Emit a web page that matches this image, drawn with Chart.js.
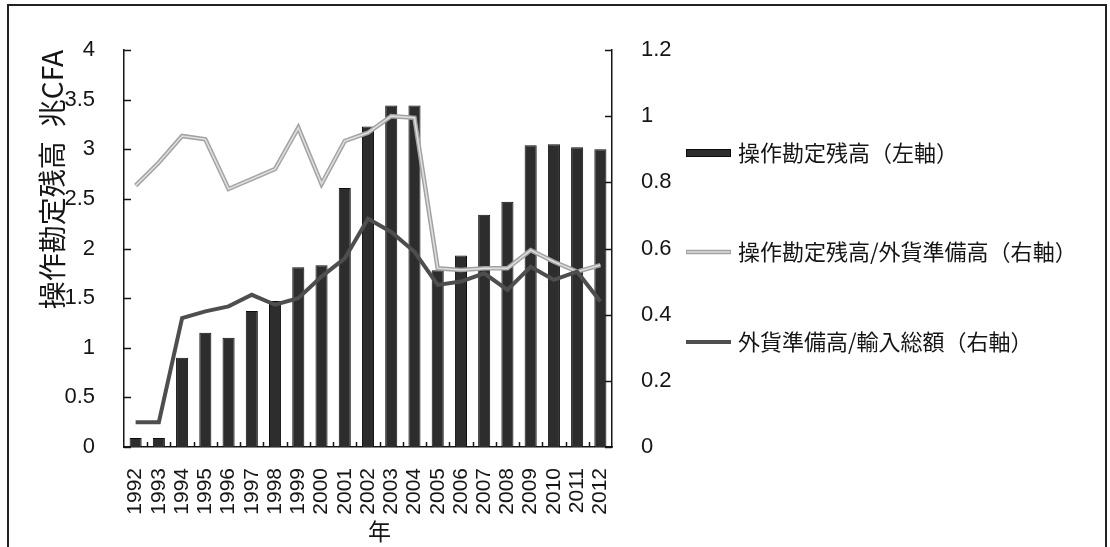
<!DOCTYPE html>
<html lang="ja">
<head>
<meta charset="utf-8">
<title>操作勘定残高と外貨準備</title>
<script src="https://cdn.jsdelivr.net/npm/chart.js@4.4.1/dist/chart.umd.min.js"></script>
<style>
  html, body { margin: 0; padding: 0; background: #ffffff; }
  #wrap { width: 1110px; height: 547px; position: relative; }
</style>
</head>
<body>
<div id="wrap"><canvas id="c" width="1110" height="547"></canvas></div>
<script>
// 年
const years = ['1992','1993','1994','1995','1996','1997','1998','1999','2000','2001','2002',
               '2003','2004','2005','2006','2007','2008','2009','2010','2011','2012'];

// 操作勘定残高（兆CFA、左軸）
const balance = [0.09, 0.09, 0.90, 1.15, 1.10, 1.37, 1.47, 1.81, 1.83, 2.61, 3.23,
                 3.44, 3.44, 1.78, 1.93, 2.34, 2.47, 3.04, 3.05, 3.02, 3.00];

// 操作勘定残高/外貨準備高（右軸）
const balanceToReserves = [0.79, 0.86, 0.94, 0.93, 0.78, 0.81, 0.84, 0.965, 0.795, 0.925, 0.95,
                           1.00, 0.995, 0.54, 0.535, 0.54, 0.54, 0.595, 0.56, 0.53, 0.55];

// 外貨準備高/輸入総額（右軸）
const reservesToImports = [0.075, 0.075, 0.39, 0.41, 0.425, 0.46, 0.43, 0.45, 0.515, 0.57, 0.69,
                           0.65, 0.59, 0.49, 0.50, 0.525, 0.475, 0.545, 0.505, 0.53, 0.44];

// 目盛りラベル
const leftTicks  = ['0','0.5','1','1.5','2','2.5','3','3.5','4'];
const rightTicks = ['0','0.2','0.4','0.6','0.8','1','1.2'];

const INK = '#151515';
const LATIN = '"Liberation Sans", Arial, sans-serif';
const CJK = '"Noto Sans CJK JP", "Noto Sans", sans-serif';
const LIGHT_CORE = '#dedede';

// 外枠
const framePlugin = {
  id: 'frame',
  beforeDraw(chart) {
    const ctx = chart.ctx;
    ctx.save();
    ctx.fillStyle = '#ffffff';
    ctx.fillRect(0, 0, chart.width, chart.height);
    ctx.strokeStyle = '#222222';
    ctx.lineWidth = 2;
    ctx.beginPath();
    ctx.moveTo(8, chart.height + 2);
    ctx.lineTo(8, 5);
    ctx.lineTo(1106, 5);
    ctx.lineTo(1106, chart.height + 2);
    ctx.stroke();
    ctx.restore();
  }
};

// 明るい折れ線は縁取り付きの二重線で描く
const doubleLinePlugin = {
  id: 'doubleLine',
  afterDatasetDraw(chart, args) {
    if (args.index !== 1) return;
    const pts = args.meta.data;
    const ctx = chart.ctx;
    ctx.save();
    ctx.strokeStyle = LIGHT_CORE;
    ctx.lineWidth = 1.6;
    ctx.lineJoin = 'miter';
    ctx.beginPath();
    pts.forEach((p, i) => (i ? ctx.lineTo(p.x, p.y) : ctx.moveTo(p.x, p.y)));
    ctx.stroke();
    ctx.restore();
  }
};

// 内向きの目盛り線
const innerTicksPlugin = {
  id: 'innerTicks',
  afterDraw(chart) {
    const {ctx, chartArea, scales} = chart;
    ctx.save();
    ctx.strokeStyle = INK;
    ctx.lineWidth = 1.5;
    ctx.beginPath();
    scales.y.ticks.forEach((t, i) => {
      const py = Math.round(scales.y.getPixelForTick(i)) + 0.5;
      ctx.moveTo(chartArea.left, py);
      ctx.lineTo(chartArea.left + 7, py);
    });
    scales.y1.ticks.forEach((t, i) => {
      const py = Math.round(scales.y1.getPixelForTick(i)) + 0.5;
      ctx.moveTo(chartArea.right, py);
      ctx.lineTo(chartArea.right - 7, py);
    });
    const step = scales.x.getPixelForValue(1) - scales.x.getPixelForValue(0);
    for (let i = 1; i < years.length; i++) {
      const px = Math.round(scales.x.getPixelForValue(i) - step / 2) + 0.5;
      ctx.moveTo(px, chartArea.bottom);
      ctx.lineTo(px, chartArea.bottom - 5);
    }
    ctx.stroke();
    ctx.restore();
  }
};

// 凡例（右側）
const legendPlugin = {
  id: 'sideLegend',
  afterDraw(chart) {
    const ctx = chart.ctx;
    const rows = [153, 252, 342];
    const x0 = 686, x1 = 731, tx = 738;
    ctx.save();
    ctx.font = '22px ' + CJK;
    ctx.textBaseline = 'middle';
    ctx.textAlign = 'left';
    chart.data.datasets.forEach((ds, i) => {
      const y = rows[i];
      if (ds.type === 'bar') {
        ctx.fillStyle = ds.backgroundColor;
        ctx.fillRect(x0, y - 4, x1 - x0, 8);
        ctx.strokeStyle = ds.borderColor;
        ctx.lineWidth = 1;
        ctx.strokeRect(x0 + 0.5, y - 3.5, x1 - x0 - 1, 7);
      } else {
        ctx.strokeStyle = ds.borderColor;
        ctx.lineWidth = ds.borderWidth;
        ctx.beginPath();
        ctx.moveTo(x0, y);
        ctx.lineTo(x1, y);
        ctx.stroke();
        if (i === 1) {
          ctx.strokeStyle = LIGHT_CORE;
          ctx.lineWidth = 1.6;
          ctx.beginPath();
          ctx.moveTo(x0 + 1, y);
          ctx.lineTo(x1 - 1, y);
          ctx.stroke();
        }
      }
      ctx.fillStyle = INK;
      ctx.fillText(ds.label, tx, y);
    });
    ctx.restore();
  }
};

new Chart(document.getElementById('c'), {
  data: {
    labels: years,
    datasets: [
      {
        type: 'bar',
        label: '操作勘定残高（左軸）',
        data: balance,
        yAxisID: 'y',
        backgroundColor: '#2d2d2d',
        borderColor: '#0d0d0d',
        borderWidth: 1,
        categoryPercentage: 1.0,
        barPercentage: 0.52,
        order: 3
      },
      {
        type: 'line',
        label: '操作勘定残高/外貨準備高（右軸）',
        data: balanceToReserves,
        yAxisID: 'y1',
        borderColor: '#a2a2a2',
        backgroundColor: '#a2a2a2',
        borderWidth: 4.5,
        pointRadius: 0,
        tension: 0,
        order: 2
      },
      {
        type: 'line',
        label: '外貨準備高/輸入総額（右軸）',
        data: reservesToImports,
        yAxisID: 'y1',
        borderColor: '#4e4e4e',
        backgroundColor: '#4e4e4e',
        borderWidth: 4,
        pointRadius: 0,
        tension: 0,
        order: 1
      }
    ]
  },
  options: {
    responsive: false,
    animation: false,
    events: [],
    layout: { padding: { left: 0, right: 0, top: 50, bottom: 0 } },
    plugins: {
      legend: { display: false },
      tooltip: { enabled: false }
    },
    scales: {
      x: {
        type: 'category',
        offset: true,
        grid: { display: false },
        border: { display: true, color: INK, width: 1.5 },
        ticks: {
          autoSkip: false,
          minRotation: 90,
          maxRotation: 90,
          padding: 13,
          color: INK,
          font: { family: LATIN, size: 21 }
        },
        title: {
          display: true,
          text: '\u2003年',
          color: INK,
          font: { family: CJK, size: 23 },
          padding: { top: 0, bottom: 2 }
        },
        afterFit(scale) { scale.height = 100; }
      },
      y: {
        type: 'linear',
        position: 'left',
        min: 0,
        max: 4,
        grid: { display: false },
        border: { display: true, color: INK, width: 1.5 },
        ticks: {
          stepSize: 0.5,
          padding: 21,
          color: INK,
          font: { family: LATIN, size: 22 },
          callback: (v, i) => leftTicks[i]
        },
        title: {
          display: true,
          text: '操作勘定残高\u2002兆CFA',
          align: 'end',
          color: INK,
          font: { family: CJK, size: 28 },
          padding: { top: 36, bottom: 0 }
        },
        afterFit(scale) { scale.width = 124; }
      },
      y1: {
        type: 'linear',
        position: 'right',
        min: 0,
        max: 1.2,
        grid: { display: false },
        border: { display: true, color: INK, width: 1.5 },
        ticks: {
          stepSize: 0.2,
          padding: 21,
          color: INK,
          font: { family: LATIN, size: 22 },
          callback: (v, i) => rightTicks[i]
        },
        afterFit(scale) { scale.width = 1110 - 612; }
      }
    }
  },
  plugins: [framePlugin, doubleLinePlugin, innerTicksPlugin, legendPlugin]
});
</script>
</body>
</html>
